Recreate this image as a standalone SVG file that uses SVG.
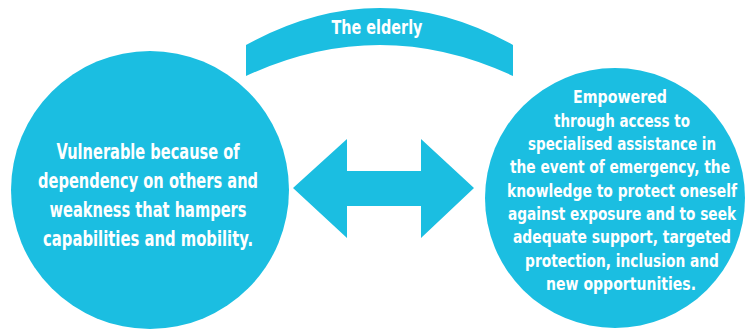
<svg xmlns="http://www.w3.org/2000/svg" width="756" height="330" viewBox="0 0 756 330">
<style>
.fill{fill:#1bbee1}
.t{fill:#fff;font-family:"DejaVu Sans Condensed","Liberation Sans Narrow","DejaVu Sans",sans-serif;font-stretch:condensed;font-weight:bold;text-anchor:middle}
.l{font-size:22px}
.r{font-size:18px}
.h{font-size:19px}
</style>
<rect width="756" height="330" fill="#fff"/>
<g id="banner">
<path class="fill" d="M246,45 Q380,-29 513,45 L513,76 Q380,14 246,76 Z"/>
<g transform="scale(0.72,1)">
<text class="t h" x="523.6" y="34" textLength="126.4" lengthAdjust="spacingAndGlyphs">The elderly</text>
</g>
</g>
<g id="left">
<circle class="fill" cx="150" cy="190" r="139"/>
<g transform="scale(0.72,1)">
<text class="t l" x="205.6" y="159" textLength="254.2" lengthAdjust="spacingAndGlyphs">Vulnerable because of</text>
<text class="t l" x="205.6" y="188" textLength="305.6" lengthAdjust="spacingAndGlyphs">dependency on others and</text>
<text class="t l" x="205.6" y="217" textLength="273.6" lengthAdjust="spacingAndGlyphs">weakness that hampers</text>
<text class="t l" x="205.6" y="246" textLength="291.7" lengthAdjust="spacingAndGlyphs">capabilities and mobility.</text>
</g>
</g>
<g id="right">
<circle class="fill" cx="615" cy="198" r="130"/>
<g transform="scale(0.72,1)">
<text class="t r" x="861.1" y="103" textLength="130.6" lengthAdjust="spacingAndGlyphs">Empowered</text>
<text class="t r" x="863.9" y="127" textLength="188.9" lengthAdjust="spacingAndGlyphs">through access to</text>
<text class="t r" x="863.9" y="150" textLength="261.1" lengthAdjust="spacingAndGlyphs">specialised assistance in</text>
<text class="t r" x="861.1" y="173" textLength="305.6" lengthAdjust="spacingAndGlyphs">the event of emergency, the</text>
<text class="t r" x="863.9" y="197" textLength="319.4" lengthAdjust="spacingAndGlyphs">knowledge to protect oneself</text>
<text class="t r" x="863.9" y="220" textLength="316.7" lengthAdjust="spacingAndGlyphs">against exposure and to seek</text>
<text class="t r" x="863.9" y="243" textLength="302.8" lengthAdjust="spacingAndGlyphs">adequate support, targeted</text>
<text class="t r" x="863.9" y="267" textLength="269.4" lengthAdjust="spacingAndGlyphs">protection, inclusion and</text>
<text class="t r" x="862.5" y="290" textLength="208.3" lengthAdjust="spacingAndGlyphs">new opportunities.</text>
</g>
</g>
<g id="connectors">
<path class="fill" d="M293,188 L347,139 L347,171 L421,171 L421,139 L474,188 L421,238 L421,206 L347,206 L347,238 Z"/>
</g>
</svg>
